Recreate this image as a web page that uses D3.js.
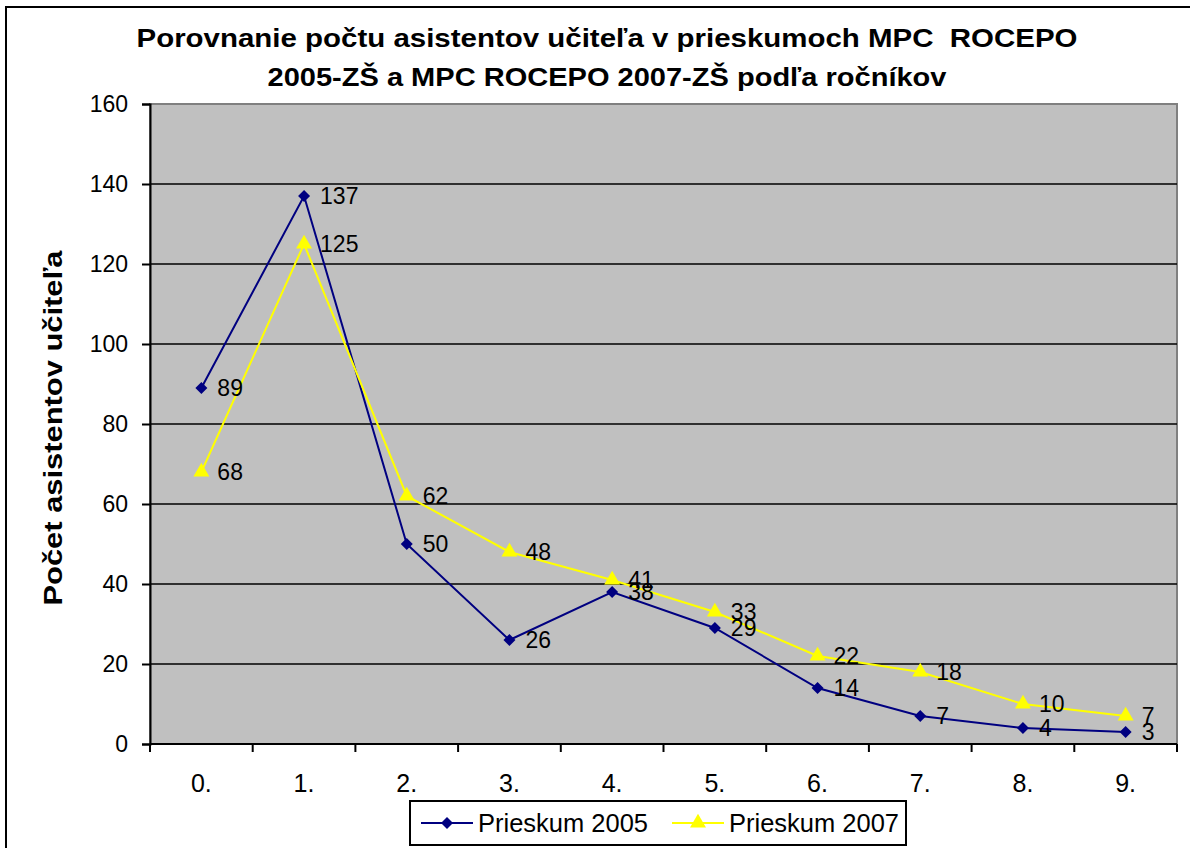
<!DOCTYPE html>
<html>
<head>
<meta charset="utf-8">
<script src="https://cdn.jsdelivr.net/npm/d3@7"></script>
<style>
  body { margin: 0; background: #fff; }
  svg { font-family: "Liberation Sans", Arial, sans-serif; }
</style>
</head>
<body>
<div id="wrapper"></div>
<script>
const categories = ["0.", "1.", "2.", "3.", "4.", "5.", "6.", "7.", "8.", "9."];
const prieskum2005 = [89, 137, 50, 26, 38, 29, 14, 7, 4, 3];
const prieskum2007 = [68, 125, 62, 48, 41, 33, 22, 18, 10, 7];
const yTicks = [0, 20, 40, 60, 80, 100, 120, 140, 160];
const seriesNames = ["Prieskum 2005", "Prieskum 2007"];
const titleLines = [
    "Porovnanie počtu asistentov učiteľa v prieskumoch MPC  ROCEPO",
    "2005-ZŠ a MPC ROCEPO 2007-ZŠ podľa ročníkov"
];
const yTitle = "Počet asistentov učiteľa";

const dimension = {
    width: 1190,
    height: 848,
    margin: { top: 104, left: 150, bottom: 104, right: 13 }
};
dimension.boundedWidth = dimension.width - dimension.margin.left - dimension.margin.right;
dimension.boundedHeight = 744 - dimension.margin.top;

const svg = d3.select("#wrapper").append("svg")
    .attr("width", dimension.width)
    .attr("height", dimension.height);

// outer chart border (cropped at right/bottom)
svg.append("rect")
    .attr("x", 6).attr("y", 7)
    .attr("width", 1200).attr("height", 900)
    .attr("fill", "#fff")
    .attr("stroke", "#000")
    .attr("stroke-width", 2);

const xScaler = d3.scaleBand()
    .domain(categories)
    .range([0, dimension.boundedWidth]);

const yScaler = d3.scaleLinear()
    .domain([0, 160])
    .range([dimension.boundedHeight, 0]);

const bounded = svg.append("g")
    .attr("transform", `translate(${dimension.margin.left},${dimension.margin.top})`);

// plot background
bounded.append("rect")
    .attr("width", dimension.boundedWidth)
    .attr("height", dimension.boundedHeight)
    .attr("fill", "#c0c0c0")
    .attr("stroke", "#808080")
    .attr("stroke-width", 2);

// gridlines
bounded.append("g")
    .selectAll("line")
    .data(yTicks.filter(d => d > 0 && d < 160))
    .join("line")
    .attr("x1", 0)
    .attr("x2", dimension.boundedWidth)
    .attr("y1", d => yScaler(d))
    .attr("y2", d => yScaler(d))
    .attr("stroke", "#000")
    .attr("stroke-width", 1.6);

// y axis
const yAxisGroup = bounded.append("g")
    .call(d3.axisLeft(yScaler).tickValues(yTicks).tickSize(8).tickPadding(14));
yAxisGroup.select(".domain").attr("stroke-width", 2);
yAxisGroup.selectAll(".tick line").attr("stroke-width", 2);
yAxisGroup.selectAll("text")
    .attr("font-size", "23px")
    .attr("font-family", "Liberation Sans, Arial, sans-serif")
    .attr("fill", "#000");

// x axis
const xAxisGroup = bounded.append("g")
    .attr("transform", `translate(0,${dimension.boundedHeight})`);
xAxisGroup.append("line")
    .attr("x1", 0).attr("x2", dimension.boundedWidth)
    .attr("stroke", "#000").attr("stroke-width", 2);
const boundaries = categories.map(c => xScaler(c)).concat([dimension.boundedWidth]);
xAxisGroup.selectAll("line.tick")
    .data(boundaries)
    .join("line")
    .attr("class", "tick")
    .attr("x1", d => d).attr("x2", d => d)
    .attr("y1", 0).attr("y2", 8)
    .attr("stroke", "#000").attr("stroke-width", 2);
xAxisGroup.selectAll("text")
    .data(categories)
    .join("text")
    .attr("x", d => xScaler(d) + xScaler.bandwidth() / 2)
    .attr("y", 48)
    .attr("text-anchor", "middle")
    .attr("font-size", "25px")
    .text(d => d);

// series
const series = [
    { name: seriesNames[0], values: prieskum2005, color: "#000080", symbol: d3.symbolSquare, size: 72, rotate: 45 },
    { name: seriesNames[1], values: prieskum2007, color: "#ffff00", symbol: d3.symbolTriangle, size: 110, rotate: 0 }
];

const xPos = (i) => xScaler(categories[i]) + xScaler.bandwidth() / 2;

const line = d3.line()
    .x((d, i) => xPos(i))
    .y(d => yScaler(d));

series.forEach(s => {
    const g = bounded.append("g");
    g.append("path")
        .datum(s.values)
        .attr("d", line)
        .attr("fill", "none")
        .attr("stroke", s.color)
        .attr("stroke-width", 2);
    g.selectAll("path.marker")
        .data(s.values)
        .join("path")
        .attr("class", "marker")
        .attr("d", d3.symbol().type(s.symbol).size(s.size))
        .attr("transform", (d, i) => `translate(${xPos(i)},${yScaler(d)}) rotate(${s.rotate})`)
        .attr("fill", s.color);
});

// data labels
series.forEach(s => {
    bounded.append("g")
        .selectAll("text")
        .data(s.values)
        .join("text")
        .attr("x", (d, i) => xPos(i) + 16)
        .attr("y", d => yScaler(d))
        .attr("dy", "0.36em")
        .attr("font-size", "23px")
        .attr("fill", "#000")
        .text(d => d);
});

// title (reference text is a bit wider than the font, so stretch to width)
const titleWidths = [941, 679];
svg.append("g")
    .selectAll("text")
    .data(titleLines)
    .join("text")
    .attr("x", 607)
    .attr("y", (d, i) => 47 + i * 39)
    .attr("text-anchor", "middle")
    .attr("font-size", "26px")
    .attr("font-weight", "bold")
    .attr("textLength", (d, i) => titleWidths[i])
    .attr("lengthAdjust", "spacingAndGlyphs")
    .style("white-space", "pre")
    .text(d => d);

// y title
svg.append("text")
    .attr("transform", "translate(62,428) rotate(-90)")
    .attr("text-anchor", "middle")
    .attr("font-size", "26px")
    .attr("font-weight", "bold")
    .attr("textLength", 355)
    .attr("lengthAdjust", "spacingAndGlyphs")
    .text(yTitle);

// legend
const legend = svg.append("g");
legend.append("rect")
    .attr("x", 410).attr("y", 801)
    .attr("width", 496).attr("height", 44)
    .attr("fill", "#fff")
    .attr("stroke", "#000")
    .attr("stroke-width", 2);
const legendX = [421, 672];
series.forEach((s, i) => {
    const lg = legend.append("g").attr("transform", `translate(${legendX[i]},823)`);
    lg.append("line")
        .attr("x1", 0).attr("x2", 52)
        .attr("stroke", s.color).attr("stroke-width", 2);
    lg.append("path")
        .attr("d", d3.symbol().type(s.symbol).size(s.size))
        .attr("transform", `translate(26,0) rotate(${s.rotate})`)
        .attr("fill", s.color);
    lg.append("text")
        .attr("x", 57)
        .attr("dy", "0.36em")
        .attr("font-size", "25px")
        .attr("textLength", 170)
        .attr("lengthAdjust", "spacingAndGlyphs")
        .text(s.name);
});
</script>
</body>
</html>
